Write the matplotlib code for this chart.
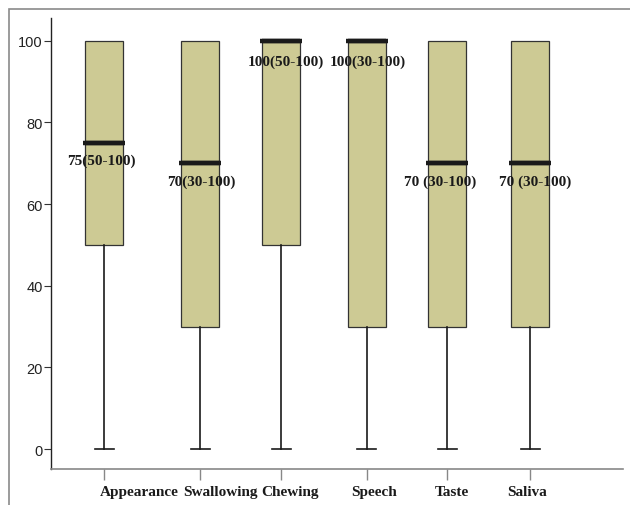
import matplotlib
matplotlib.use("Agg")
import matplotlib.pyplot as plt
from matplotlib.patches import Rectangle
import matplotlib.transforms as mtransforms

categories = ["Appearance", "Swallowing", "Chewing", "Speech", "Taste", "Saliva"]
whisker_low = [0, 0, 0, 0, 0, 0]
q1 = [50, 30, 50, 30, 30, 30]
median = [75, 70, 100, 100, 70, 70]
q3 = [100, 100, 100, 100, 100, 100]
whisker_high = [100, 100, 100, 100, 100, 100]
annotations = ["75(50-100)", "70(30-100)", "100(50-100)", "100(30-100)", "70 (30-100)", "70 (30-100)"]

# layout (pixel-like x positions along the axis)
positions = [53, 149, 230, 315.5, 396, 479]
label_x = [50.5, 150, 235, 317, 389, 484]
label_y = [70.8, 65.7, 95.1, 95.1, 65.7, 65.7]
xlabel_x = [88, 169, 239, 323, 401, 476]

fig = plt.figure(figsize=(6.3, 5.06), dpi=100)
ax = fig.add_axes([51/630, 1-470/506, (623-51)/630, (470-19)/506])

stats = []
for i, c in enumerate(categories):
    stats.append(dict(label=c, whislo=whisker_low[i], q1=q1[i], med=median[i],
                      q3=q3[i], whishi=whisker_high[i], fliers=[]))

res = ax.bxp(stats, positions=positions, widths=38, patch_artist=True, showfliers=False,
             boxprops=dict(facecolor="#CDCA94", edgecolor="#333333", linewidth=0.9),
             medianprops=dict(color="#1a1a1a", linewidth=3.2, solid_capstyle="butt"),
             whiskerprops=dict(color="#1a1a1a", linewidth=1.2),
             capprops=dict(color="#1a1a1a", linewidth=1.2),
             capwidths=19)
# hide upper caps (they coincide with box top)
for k, cap in enumerate(res["caps"]):
    if k % 2 == 1:
        cap.set_visible(False)

# extend median lines slightly beyond the box
for p, m in zip(positions, median):
    ax.plot([p - 21, p + 21], [m, m], color="#1a1a1a", linewidth=3.2, solid_capstyle="butt", zorder=4)

for x, y, t in zip(label_x, label_y, annotations):
    ax.text(x, y, t, ha="center", va="center", fontsize=11, fontweight="bold",
            family="Liberation Serif", color="#1a1a1a", zorder=5)

ax.set_xlim(0, 572)
ax.set_ylim(-4.9, 105.6)
ax.set_yticks([0, 20, 40, 60, 80, 100])
ax.set_yticklabels(["0", "20", "40", "60", "80", "100"], family="Liberation Sans", fontsize=10.5, color="#222222")
ax.set_xticks(positions)
ax.set_xticklabels([])
trans = mtransforms.blended_transform_factory(ax.transData, ax.transAxes)
for x, c in zip(xlabel_x, categories):
    ax.text(x, (470 - 493) / 451, c, transform=trans, ha="center", va="center",
            family="Liberation Serif", fontweight="bold", fontsize=11, color="#1a1a1a", clip_on=False)
ax.tick_params(axis="y", direction="out", length=5, width=0.8, color="#333333", pad=1)
ax.tick_params(axis="x", direction="out", length=8, width=1, color="#888888", pad=3)

ax.spines["top"].set_visible(False)
ax.spines["right"].set_visible(False)
ax.spines["left"].set_color("#222222")
ax.spines["left"].set_linewidth(1.0)
ax.spines["bottom"].set_color("#888888")
ax.spines["bottom"].set_linewidth(1.2)

# outer frame (partially cut off at right and bottom)
frame = Rectangle((9/630, -0.2), 1.2, 1.2 - 10/506, transform=fig.transFigure,
                  fill=False, edgecolor="#8a8a8a", linewidth=1.2, clip_on=False)
fig.patches.append(frame)

fig.savefig("out.png", dpi=100)
